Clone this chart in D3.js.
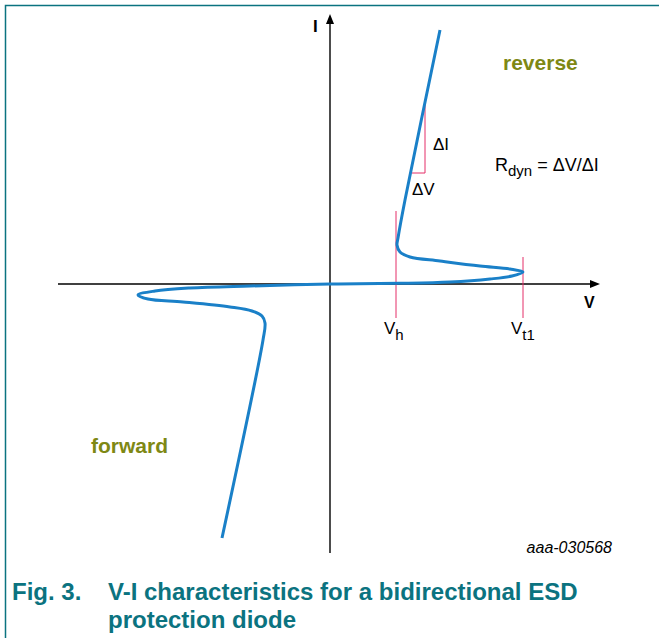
<!DOCTYPE html>
<html>
<head>
<meta charset="utf-8">
<script src="https://cdn.jsdelivr.net/npm/d3@7"></script>
<style>
  body { margin: 0; background: #fff; }
  svg text { font-family: "Liberation Sans", Arial, sans-serif; }
</style>
</head>
<body>
<svg id="chart" width="659" height="638"></svg>
<script>
// V-I curve of the ESD diode (arbitrary units)
const curveV = [11.0, 7.5, 6.8, 6.7, 7.0, 8.0, 11.0, 15.0, 18.0, 19.3, 18.2, 16.0, 12.0, 7.0, 0,
  -8.0, -14.0, -17.5, -19.2, -18.2, -14.7, -10.0, -7.8, -6.8, -6.5, -6.7, -10.8]
const curveI = [25.4, 8.4, 4.6, 3.9, 3.2, 2.7, 2.3, 1.8, 1.5, 1.2, 0.8, 0.5, 0.2, 0.07, 0,
  -0.2, -0.4, -0.7, -1.1, -1.5, -1.8, -2.3, -2.7, -3.2, -3.9, -5.6, -25.4]

// holding / trigger voltages
const markerNames = ['h', 't1']
const markerV = [6.6, 19.3]
const markerTopI = [7.3, 2.7]
const markerBottomI = -3.4

// delta triangle on the reverse slope
const deltaV = [8.2, 9.5]
const deltaI = [11.1, 18.4]

const svg = d3.select('#chart')
const teal = '#0b7380'
const olive = '#7e8814'
const blue = '#1a80c8'
const pink = '#e42f68'

// frame
svg.append('path')
  .attr('d', 'M5.5,660 V5.5 H680')
  .attr('fill', 'none')
  .attr('stroke', teal)
  .attr('stroke-width', 1.5)

const x = d3.scaleLinear().domain([-27.2, 27]).range([58, 600])
const y = d3.scaleLinear().domain([-26.9, 27]).range([553, 14])

// axes
svg.append('line')
  .attr('x1', x(-27.2)).attr('x2', x(26))
  .attr('y1', y(0)).attr('y2', y(0))
  .attr('stroke', '#000').attr('stroke-width', 1.4)
svg.append('line')
  .attr('x1', x(0)).attr('x2', x(0))
  .attr('y1', y(-26.9)).attr('y2', y(26))
  .attr('stroke', '#000').attr('stroke-width', 1.4)
svg.append('path')
  .attr('d', `M${x(27)},${y(0)} l-10,-4 v8 z`)
  .attr('fill', '#000')
svg.append('path')
  .attr('d', `M${x(0)},${y(27)} l-4,10 h8 z`)
  .attr('fill', '#000')

svg.append('text').attr('x', 313).attr('y', 32)
  .attr('font-size', 17).attr('font-weight', 'bold').text('I')
svg.append('text').attr('x', 584).attr('y', 308)
  .attr('font-size', 16).attr('font-weight', 'bold').text('V')

// marker lines
markerV.forEach((v, i) => {
  svg.append('line')
    .attr('x1', x(v)).attr('x2', x(v))
    .attr('y1', y(markerTopI[i])).attr('y2', y(markerBottomI))
    .attr('stroke', pink).attr('stroke-width', 1)
  const t = svg.append('text')
    .attr('x', x(v) - 12).attr('y', 334)
    .attr('font-size', 17)
  t.append('tspan').text('V')
  t.append('tspan').attr('font-size', 15).attr('dy', 6).text(markerNames[i])
})

// delta triangle
svg.append('path')
  .attr('d', `M${x(deltaV[1])},${y(deltaI[1])} V${y(deltaI[0])} H${x(deltaV[0])}`)
  .attr('fill', 'none').attr('stroke', pink).attr('stroke-width', 1)

// curve
const pts = curveV.map((v, i) => [v, curveI[i]])
const line = d3.line()
  .x(d => x(d[0]))
  .y(d => y(d[1]))
  .curve(d3.curveCatmullRom.alpha(0.5))
svg.append('path')
  .datum(pts)
  .attr('d', line)
  .attr('fill', 'none')
  .attr('stroke', blue)
  .attr('stroke-width', 3)
  .attr('stroke-linejoin', 'round')

svg.append('text').attr('x', 433).attr('y', 150).attr('font-size', 17).text('\u0394I')
svg.append('text').attr('x', 412).attr('y', 195).attr('font-size', 17).text('\u0394V')
const rd = svg.append('text').attr('x', 495).attr('y', 171).attr('font-size', 18)
rd.append('tspan').text('R')
rd.append('tspan').attr('font-size', 15).attr('dy', 5).text('dyn')
rd.append('tspan').attr('dy', -5).text(' = \u0394V/\u0394I')

svg.append('text').attr('x', 503).attr('y', 70)
  .attr('font-size', 21).attr('font-weight', 'bold').attr('fill', olive).text('reverse')
svg.append('text').attr('x', 91).attr('y', 453)
  .attr('font-size', 21).attr('font-weight', 'bold').attr('fill', olive).text('forward')

svg.append('text').attr('x', 612).attr('y', 553).attr('text-anchor', 'end')
  .attr('font-size', 16).attr('font-style', 'italic').text('aaa-030568')

// caption
const cap = svg.append('g').attr('fill', teal).attr('font-weight', 'bold').attr('font-size', 24)
cap.append('text').attr('x', 12).attr('y', 600).text('Fig. 3.')
cap.append('text').attr('x', 108).attr('y', 600).text('V-I characteristics for a bidirectional ESD')
cap.append('text').attr('x', 108).attr('y', 628).text('protection diode')
</script>
</body>
</html>
